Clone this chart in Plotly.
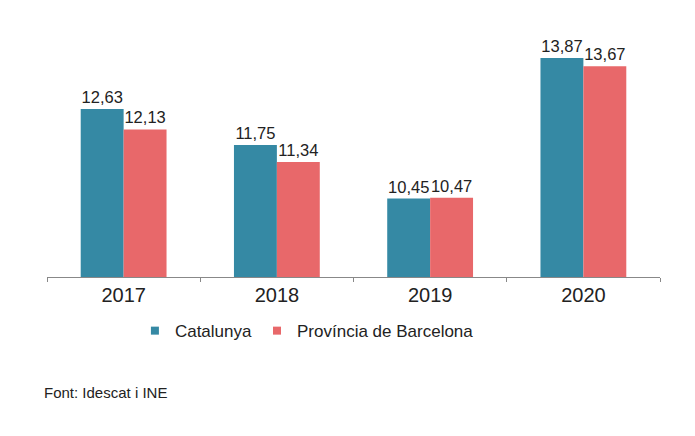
import plotly.graph_objects as go

years = ["2017", "2018", "2019", "2020"]
catalunya = [12.63, 11.75, 10.45, 13.87]
barcelona = [12.13, 11.34, 10.47, 13.67]
series_names = ["Catalunya", "Província de Barcelona"]
colors = ["#3589A4", "#E8686A"]

fig = go.Figure()
for name, vals, col in zip(series_names, [catalunya, barcelona], colors):
    fig.add_trace(go.Bar(
        x=years, y=vals, name=name, marker=dict(color=col, line=dict(width=0)),
        texttemplate="%{y:.2f}", textposition="outside", cliponaxis=False,
        constraintext="none",
        textfont=dict(size=16.5, color="#222222"), showlegend=False,
    ))
# legend entries with small square symbols
for name, col in zip(series_names, colors):
    fig.add_trace(go.Scatter(
        x=[None], y=[None], mode="markers", name=name,
        marker=dict(symbol="square", size=8, color=col), showlegend=True,
    ))

fig.update_layout(
    width=695, height=436,
    paper_bgcolor="white", plot_bgcolor="white",
    font=dict(family="Liberation Sans", color="#222222"),
    separators=",.",
    barmode="group", bargap=0.44, bargroupgap=0,
    margin=dict(l=39, r=43, t=22, b=167),
    showlegend=True,
    legend=dict(orientation="h", x=0.424, xanchor="center", y=-0.219, yanchor="middle",
                font=dict(size=17), itemwidth=30, tracegroupgap=0),
    xaxis=dict(type="category", showline=True, linecolor="#888888", linewidth=1,
               ticks="outside", tickson="boundaries", ticklen=4, tickcolor="#888888",
               tickfont=dict(size=20, color="#222222"), showgrid=False),
    yaxis=dict(range=[8.54, 14.55], visible=False, showgrid=False),
    annotations=[dict(text="Font: Idescat i INE", xref="paper", yref="paper",
                      x=-0.008, y=-0.466, xanchor="left", yanchor="middle",
                      showarrow=False, font=dict(size=15, color="#222222"))],
)

fig.write_html("out.html")
